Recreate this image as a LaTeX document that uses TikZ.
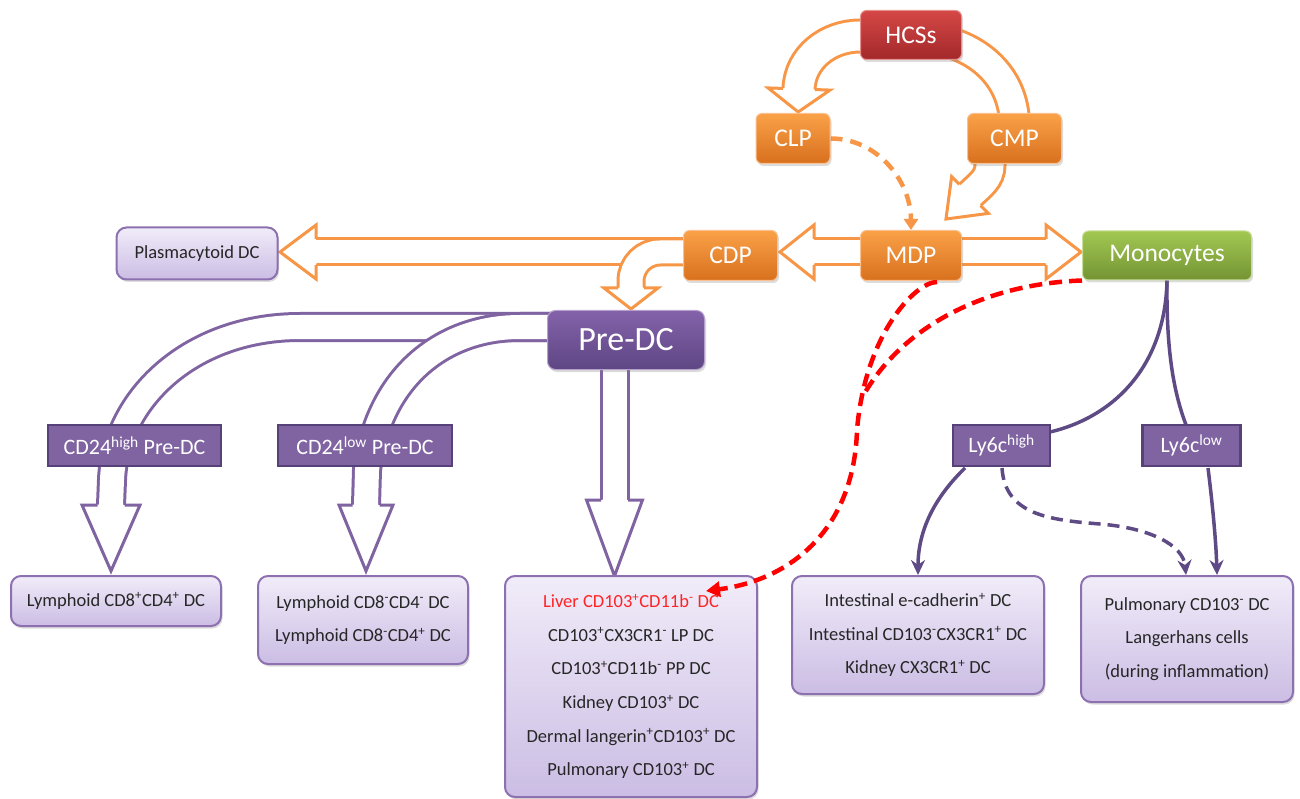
\documentclass[tikz,border=0pt]{standalone}
\usepackage{fontspec}
\setmainfont{Carlito}
\usetikzlibrary{arrows.meta,backgrounds,shadows}

\definecolor{orln}{RGB}{247,150,70}
\definecolor{ortop}{RGB}{250,162,72}
\definecolor{orbot}{RGB}{216,112,30}
\definecolor{rdtop}{RGB}{212,72,70}
\definecolor{rdbot}{RGB}{164,40,42}
\definecolor{grtop}{RGB}{162,200,82}
\definecolor{grbot}{RGB}{116,148,52}
\definecolor{putop}{RGB}{132,98,170}
\definecolor{pubot}{RGB}{94,70,132}
\definecolor{puln}{RGB}{128,100,162}
\definecolor{pudark}{RGB}{94,74,132}
\definecolor{lvtop}{RGB}{241,236,249}
\definecolor{lvbot}{RGB}{203,189,228}
\definecolor{lvln}{RGB}{140,112,176}
\definecolor{cdfill}{RGB}{128,100,162}
\definecolor{cdln}{RGB}{86,66,120}
\definecolor{livred}{RGB}{255,36,36}

\newcommand{\blockhead}[6]{%
  \begin{scope}[shift={(#1)},rotate={-(#2)}]
    \fill[white] (-1,{-(#3)+1.5}) -- (0,{-(#3)+1.5}) -- (0,-#4) -- (#5,0) -- (0,#4) -- (0,{#3-1.5}) -- (-1,{#3-1.5}) -- cycle;
    \draw[#6,line width=3pt,line join=miter] (0,-#3) -- (0,-#4) -- (#5,0) -- (0,#4) -- (0,#3);
  \end{scope}}

\tikzset{
  shad/.style={drop shadow={shadow xshift=1.5pt,shadow yshift=-2.5pt,opacity=0.28}},
  topnode/.style={shad,rounded corners=6pt,text=white,inner sep=0pt,
    font=\fontsize{25.5}{30}\selectfont,line width=1pt},
  ornode/.style={topnode,top color=ortop,bottom color=orbot,draw=orln!60!white},
  rdnode/.style={topnode,top color=rdtop,bottom color=rdbot,draw=rdtop!60!white},
  grnode/.style={topnode,top color=grtop,bottom color=grbot,draw=grtop!60!white},
  prenode/.style={shad,rounded corners=8pt,text=white,inner sep=0pt,
    top color=putop,bottom color=pubot,draw=putop!60!white,line width=1pt,
    font=\fontsize{34}{40}\selectfont},
  cdbox/.style={fill=cdfill,draw=cdln,line width=2.5pt,text=white,inner sep=0pt,
    minimum height=41pt,font=\fontsize{22}{26}\selectfont},
  lbox/.style={shad,rounded corners=10pt,top color=lvtop,bottom color=lvbot,
    draw=lvln,line width=2pt,align=center,text=black!85,inner sep=0pt,
    font=\fontsize{18.5}{33.7}\selectfont},
  orband/.style={draw=orln,line width=3pt,double=white,double distance=#1},
  pband/.style={draw=puln,line width=3pt,double=white,double distance=#1},
  ordash/.style={draw=orln,line width=4.5pt,dash pattern=on 12pt off 8pt,
    -{Triangle[length=11pt,width=14pt]}},
  pline/.style={draw=pudark,line width=3.5pt},
  parrow/.style={pline,-{Stealth[length=15pt,width=14pt]}},
  rdash/.style={draw=red,line width=4.5pt,dash pattern=on 13pt off 7pt}
}

\begin{document}
\begin{tikzpicture}[x=1pt,y=-1pt]
\useasboundingbox (0,0) rectangle (1300,799);

% ---- nodes ----
\node[rdnode,minimum width=101pt,minimum height=49pt] (HCS) at (911,35) {HCSs};
\node[ornode,minimum width=74pt,minimum height=50pt] (CLP) at (793,138.5) {CLP};
\node[ornode,minimum width=94pt,minimum height=50pt] (CMP) at (1014.5,138.5) {CMP};
\node[ornode,minimum width=94pt,minimum height=50pt] (CDP) at (730.5,255.5) {CDP};
\node[ornode,minimum width=101pt,minimum height=50pt] (MDP) at (911,255.5) {MDP};
\node[grnode,minimum width=169pt,minimum height=49pt] (MON) at (1167,255.5) {Monocytes};
\node[lbox,minimum width=161pt,minimum height=52pt,font=\fontsize{18.5}{22}\selectfont] (PDC) at (197,253.5) {Plasmacytoid DC};
\node[prenode,minimum width=157pt,minimum height=59pt] (PRE) at (626,340) {Pre-DC};
\node[cdbox,minimum width=173pt] (CDH) at (134.5,445.5) {CD24\textsuperscript{high} Pre-DC};
\node[cdbox,minimum width=174pt] (CDL) at (365,445.5) {CD24\textsuperscript{low} Pre-DC};
\node[cdbox,minimum width=97pt] (LYH) at (1001.5,445.5) {Ly6c\textsuperscript{high}};
\node[cdbox,minimum width=98pt] (LYL) at (1191.5,445.5) {Ly6c\textsuperscript{low}};

\node[lbox,minimum width=210pt,minimum height=50pt] (B1) at (116,601) {Lymphoid CD8\textsuperscript{+}CD4\textsuperscript{+} DC};
\node[lbox,minimum width=210pt,minimum height=88pt] (B2) at (363,620) {Lymphoid CD8\textsuperscript{-}CD4\textsuperscript{-} DC\\Lymphoid CD8\textsuperscript{-}CD4\textsuperscript{+} DC};
\node[lbox,minimum width=252pt,minimum height=221pt] (B3) at (631,686.5) {\textcolor{livred}{Liver CD103\textsuperscript{+}CD11b\textsuperscript{-} DC}\\CD103\textsuperscript{+}CX3CR1\textsuperscript{-} LP DC\\CD103\textsuperscript{+}CD11b\textsuperscript{-} PP DC\\Kidney CD103\textsuperscript{+} DC\\Dermal langerin\textsuperscript{+}CD103\textsuperscript{+} DC\\Pulmonary CD103\textsuperscript{+} DC};
\node[lbox,minimum width=252pt,minimum height=118pt] (B4) at (918,635) {Intestinal e-cadherin\textsuperscript{+} DC\\Intestinal CD103\textsuperscript{-}CX3CR1\textsuperscript{+} DC\\Kidney CX3CR1\textsuperscript{+} DC};
\node[lbox,minimum width=212pt,minimum height=126pt] (B5) at (1187,639) {Pulmonary CD103\textsuperscript{-} DC\\Langerhans cells\\(during inflammation)};

% ---- head bases ----
\coordinate (hA) at (316,252);
\coordinate (hB) at (814,252);
\coordinate (hC) at (1046,252);
\coordinate (hD) at (631,288);
\coordinate (hE) at (799,89);
\coordinate (hG) at (970,195);
\coordinate (hI) at (111,505);
\coordinate (hJ) at (366,505);
\coordinate (hK) at (614.5,500);

\begin{pgfonlayer}{background}
  % orange block arrows
  \draw[orband=23pt] (CDP.center |- 0,252) -- (hA);
  \blockhead{hA}{180}{13}{27}{36}{orln}
  \draw[orband=23pt] (MDP.center |- 0,252) -- (hB);
  \blockhead{hB}{180}{13}{27}{34}{orln}
  \draw[orband=23pt] (MDP.center |- 0,252) -- (hC);
  \blockhead{hC}{0}{13}{27}{35}{orln}
  \draw[orband=23pt] (CDP.center |- 0,252) -- (660,252) .. controls (644,252) and (631,265) .. (631,281) -- (hD);
  \blockhead{hD}{90}{13}{27}{21}{orln}
  \draw[orband=29pt] (HCS.center |- 0,36) -- (860,36) to[out=180,in=88] (hE);
  \blockhead{hE}{92}{16}{31}{23}{orln}
  \draw[orband=27pt] (940,40) to[out=-12,in=90] (CMP.center |- 0,125);
  \draw[orband=27pt] (CMP.center -| 990,0) -- (990,165) to[out=-90,in=45] (hG);
  \blockhead{hG}{135}{15}{26}{34}{orln}
  \draw[ordash] (CLP.east) to[out=0,in=90] (MDP.north);

  % purple block arrows
  \draw[pband=24pt] (PRE.center |- 0,327) -- (300,327) .. controls (190,327) and (115,400) .. (112,480) -- (hI);
  \blockhead{hI}{90}{13.5}{29}{66}{puln}
  \draw[pband=24pt] (PRE.center |- 0,327) -- (520,327) .. controls (440,327) and (378,380) .. (367,470) -- (hJ);
  \blockhead{hJ}{90}{13.5}{27}{66}{puln}
  \draw[pband=24pt] (PRE.center -| 614.5,0) -- (hK);
  \blockhead{hK}{90}{13.5}{28}{76}{puln}

  % monocyte branches
  \draw[pline] (MON.south) .. controls (1165,370) and (1110,418) .. (1050,432);
  \draw[pline] (MON.south) .. controls (1166,360) and (1176,400) .. (1188,430);
\end{pgfonlayer}

% ---- foreground connectors ----
\draw[parrow] (965,468) .. controls (935,497) and (918,530) .. (B4.north);
\draw[parrow,dash pattern=on 12pt off 7pt] (1002,468) .. controls (1005,515) and (1050,520) .. (1100,524) .. controls (1150,528) and (1183,545) .. (1186,575);
\draw[parrow] (1208,468) .. controls (1212,500) and (1216,540) .. (1217,575);

\coordinate (rEnd) at (706,591);
\coordinate (rMerge) at (863,396);
\draw[rdash,-{Triangle[length=14pt,width=15pt]}] (937,282) .. controls (915,282) and (865,335) .. (857,430) .. controls (854,530) and (790,580) .. (rEnd);
\draw[rdash] (MON.south west) .. controls (980,284) and (900,330) .. (rMerge);
\end{tikzpicture}
\end{document}
